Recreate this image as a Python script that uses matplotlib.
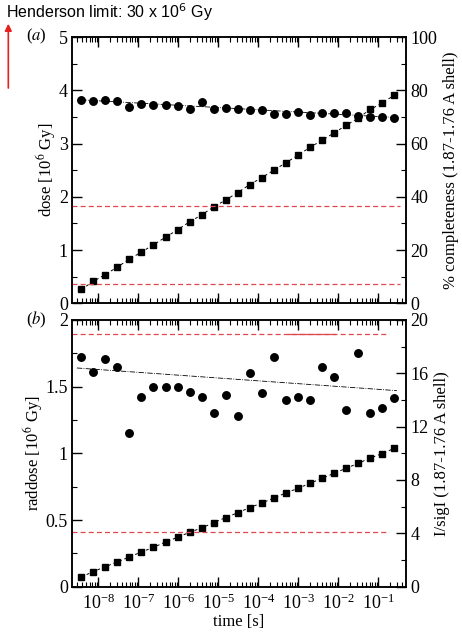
import matplotlib
matplotlib.use('Agg')
import matplotlib.pyplot as plt
from matplotlib.ticker import LogLocator, MultipleLocator, NullFormatter, FixedLocator
import numpy as np

plt.rcParams['font.family'] = ['Liberation Serif', 'DejaVu Serif']
plt.rcParams['mathtext.fontset'] = 'stix'

# exposure times [s]
times = [3.73e-9, 7.45e-9, 1.49e-8, 2.98e-8, 5.96e-8, 1.19e-7, 2.38e-7,
         4.77e-7, 9.54e-7, 1.91e-6, 3.81e-6, 7.63e-6, 1.53e-5, 3.05e-5,
         6.10e-5, 1.22e-4, 2.44e-4, 4.88e-4, 9.77e-4, 1.95e-3, 3.91e-3,
         7.81e-3, 1.56e-2, 3.13e-2, 6.25e-2, 0.125, 0.25]
time_ticks = [1e-8, 1e-7, 1e-6, 1e-5, 1e-4, 1e-3, 1e-2, 1e-1]

# panel (a)
dose = [0.26, 0.41, 0.54, 0.68, 0.83, 0.96, 1.10, 1.24, 1.38, 1.53, 1.66,
        1.81, 1.94, 2.08, 2.23, 2.36, 2.50, 2.64, 2.78, 2.93, 3.06, 3.20,
        3.34, 3.48, 3.64, 3.76, 3.91]
completeness = [76.5, 76.1, 76.5, 75.9, 73.8, 74.9, 74.5, 74.3, 74.0, 73.1,
                75.5, 73.1, 73.4, 73.1, 72.6, 72.6, 71.1, 71.1, 71.8, 70.9,
                71.3, 71.3, 71.3, 70.3, 70.0, 69.9, 69.6]
compl_fit = [76.4, 69.8]
dose_limits_a = [1.82, 0.36]

# panel (b)
raddose = [0.073, 0.113, 0.150, 0.185, 0.223, 0.260, 0.295, 0.335, 0.370,
           0.408, 0.440, 0.480, 0.518, 0.555, 0.593, 0.628, 0.665, 0.703,
           0.738, 0.775, 0.813, 0.850, 0.888, 0.925, 0.965, 0.998, 1.038]
isigi = [17.25, 16.1, 17.05, 16.5, 11.5, 14.2, 15.0, 15.0, 15.0, 14.6, 14.2,
         13.05, 14.4, 12.8, 16.0, 14.5, 17.2, 14.0, 14.25, 14.0, 16.5, 15.7,
         13.25, 17.55, 13.05, 13.4, 14.15]
isigi_fit_t = [2.9e-9, 0.29]
isigi_fit = [16.4, 14.7]
dose_limits_b = [1.895, 0.41]

xlim = (10 ** -8.66, 10 ** -0.31)

fig = plt.figure(figsize=(4.62, 6.35), dpi=100)
ax1 = fig.add_axes([0.1558, 0.5224, 0.7230, 0.4193])
ax2 = fig.add_axes([0.1558, 0.0761, 0.7230, 0.4200])

red = '#e0474c'
fs = 13


def style_axes(ax, axr, show_xlabels):
    ax.set_xscale('log')
    ax.set_xlim(*xlim)
    ax.xaxis.set_major_locator(FixedLocator(time_ticks))
    ax.xaxis.set_minor_locator(LogLocator(base=10, subs=np.arange(2, 10), numticks=20))
    ax.xaxis.set_minor_formatter(NullFormatter())
    if not show_xlabels:
        ax.xaxis.set_major_formatter(NullFormatter())
    for a in (ax, axr):
        a.tick_params(which='major', direction='in', length=7, width=1.0,
                      labelsize=fs, top=True, pad=3)
        a.tick_params(which='minor', direction='in', length=3.5, width=0.8, top=True)
        for s in a.spines.values():
            s.set_linewidth(1.1)
    ax.tick_params(axis='y', right=False, which='both')
    ax.tick_params(axis='x', pad=5)


# ---- panel (a)
ax1r = ax1.twinx()
ax1.plot(times, dose, color='black', ls=(0, (3, 3)), lw=0.7, marker='s',
         ms=4.3, mfc='black', mec='black')
for lim in dose_limits_a:
    ax1.plot([xlim[0], 10 ** -0.46], [lim, lim], color=red, ls=(0, (4, 2.5)), lw=0.9)
ax1r.plot(times, completeness, ls='none', marker='o', ms=5.4, color='black')
ax1r.plot([times[0], times[-1]], compl_fit, color='black', ls='-.', lw=0.6)
ax1.set_ylim(0, 5)
ax1r.set_ylim(0, 100)
ax1.yaxis.set_major_locator(MultipleLocator(1))
ax1.yaxis.set_minor_locator(MultipleLocator(0.5))
ax1r.yaxis.set_major_locator(MultipleLocator(20))
ax1r.yaxis.set_minor_locator(MultipleLocator(10))
style_axes(ax1, ax1r, False)
ax1.set_ylabel('dose [10$^6$ Gy]', fontsize=12, labelpad=0.5)
ax1r.set_ylabel('% completeness (1.87-1.76 A shell)', fontsize=12, labelpad=4)
ax1.set_zorder(ax1r.get_zorder() + 1)
ax1.patch.set_visible(False)

# ---- panel (b)
ax2r = ax2.twinx()
ax2.plot(times, raddose, color='black', ls=(0, (3, 3)), lw=0.7, marker='s',
         ms=4.3, mfc='black', mec='black')
for lim in dose_limits_b:
    ax2.plot([xlim[0], 10 ** -0.73], [lim, lim], color=red, ls=(0, (4, 2.5)), lw=0.9)
ax2.plot([10 ** -3.26, 10 ** -2.08], [dose_limits_b[0]] * 2, color=red, lw=0.9)
ax2r.plot(times, isigi, ls='none', marker='o', ms=5.4, color='black')
ax2r.plot(isigi_fit_t, isigi_fit, color='black', ls='-.', lw=0.6)
ax2.set_ylim(0, 2)
ax2r.set_ylim(0, 20)
ax2.yaxis.set_major_locator(MultipleLocator(0.5))
ax2.yaxis.set_minor_locator(MultipleLocator(0.25))
ax2.yaxis.set_major_formatter(plt.FuncFormatter(lambda v, p: f'{v:g}'))
ax2r.yaxis.set_major_locator(MultipleLocator(4))
ax2r.yaxis.set_minor_locator(MultipleLocator(2))
style_axes(ax2, ax2r, True)
ax2.set_ylabel('raddose [10$^6$ Gy]', fontsize=12, labelpad=0.5)
ax2r.set_ylabel('I/sigI (1.87-1.76 A shell)', fontsize=12, labelpad=4)
ax2.set_xlabel('time [s]', fontsize=12, labelpad=1)

# panel tags
fig.text(0.056, 0.942, '($\\mathit{a}$)', fontsize=12, va='center', ha='left')
fig.text(0.056, 0.496, '($\\mathit{b}$)', fontsize=12, va='center', ha='left')

# Henderson limit annotation
fig.text(0.012, 0.981, 'Henderson limit: 30 x 10$^{6}$ Gy', fontsize=11.5,
         family='Liberation Sans', va='center', ha='left',
         math_fontfamily='dejavusans')
fig.add_artist(matplotlib.patches.FancyArrowPatch(
    (0.018, 0.857), (0.018, 0.967), transform=fig.transFigure,
    arrowstyle='-|>', mutation_scale=10, color='#e8201c', lw=1.2))

fig.savefig('out.png', dpi=100)
